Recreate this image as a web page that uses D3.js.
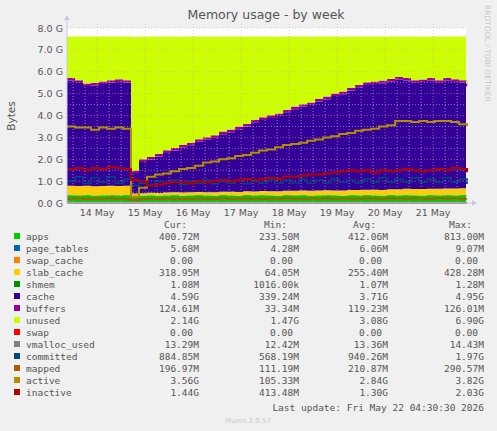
<!DOCTYPE html>
<html><head><meta charset="utf-8">
<script src="https://cdn.jsdelivr.net/npm/d3@7"></script>
<style>body{margin:0;background:#f0f0f0}svg{display:block}</style>
</head><body><svg id="c" width="497" height="431"></svg>
<script>
const startTime = new Date(2026,4,13,9,0);
const stepHours = 4;
const apps = [0.36,0.35,0.36,0.34,0.35,0.36,0.35,0.36,0.33,0.34,0.35,0.34,0.35,0.36,0.34,0.35,0.36,0.35,0.34,0.36,0.35,0.34,0.36,0.35,0.36,0.35,0.34,0.36,0.35,0.36,0.34,0.35,0.36,0.35,0.34,0.36,0.35,0.36,0.35,0.34,0.36,0.35,0.36,0.35,0.34,0.36,0.35,0.36,0.35,0.36,0.35];
const pageTables = Array(51).fill(0.006);
const swapCache = Array(51).fill(0);
const slabCache = [0.42,0.42,0.42,0.42,0.42,0.42,0.42,0.42,.10,.10,.11,.11,.12,.12,.13,.13,.14,.14,.15,.15,.16,.16,.17,.17,.18,.18,.19,.19,.20,.20,.21,.21,.22,.22,.23,.23,.24,.24,.25,.25,.26,.27,.28,.28,.29,.29,.30,.30,.31,.31,.32];
const shmem = Array(51).fill(0.001);
const cache = [4.81,4.71,4.56,4.61,4.66,4.71,4.76,4.71,0.93,1.43,1.52,1.67,1.81,1.91,2.05,2.15,2.29,2.39,2.48,2.63,2.72,2.87,2.96,3.16,3.25,3.35,3.44,3.59,3.73,3.83,3.92,4.07,4.16,4.31,4.40,4.55,4.69,4.79,4.83,4.88,4.92,5.01,4.95,4.85,4.89,4.94,4.83,4.93,4.87,4.82,4.66];
const buffers = Array(51).fill(0.12);
const unused = [1.9,2.0,2.15,2.1,2.05,2.0,1.95,2.0,6.1,5.6,5.5,5.35,5.2,5.1,4.95,4.85,4.7,4.6,4.5,4.35,4.25,4.1,4.0,3.8,3.7,3.6,3.5,3.35,3.2,3.1,3.0,2.85,2.75,2.6,2.5,2.35,2.2,2.1,2.05,2.0,1.95,1.85,1.9,2.0,1.95,1.9,2.0,1.9,1.95,2.0,2.15];
const swap = Array(51).fill(0);
const vmallocUsed = Array(51).fill(0.013);
const committed = [1.0,1.2,0.9,1.15,0.95,1.2,0.9,1.1,0.8,0.9,0.85,1.0,0.9,1.05,0.85,1.0,0.9,1.05,0.88,1.0,0.9,1.05,0.88,1.0,0.9,1.08,0.9,1.05,0.92,1.1,0.9,1.05,0.92,1.1,0.95,1.05,0.92,1.1,0.95,1.15,0.95,1.1,0.95,1.15,0.95,1.1,0.95,1.15,0.95,1.1,0.9];
const mapped = [0.2,0.22,0.18,0.21,0.2,0.22,0.19,0.2,0.15,0.18,0.2,0.19,0.21,0.2,0.18,0.2,0.21,0.19,0.2,0.22,0.2,0.19,0.21,0.2,0.19,0.21,0.2,0.22,0.2,0.19,0.21,0.2,0.22,0.2,0.21,0.19,0.2,0.22,0.21,0.2,0.22,0.21,0.2,0.22,0.21,0.2,0.23,0.21,0.22,0.2,0.2];
const active = [3.5,3.45,3.45,3.35,3.45,3.4,3.45,3.4,0.3,0.7,1.2,1.3,1.35,1.45,1.55,1.6,1.7,1.85,1.9,2.0,2.05,2.15,2.2,2.3,2.4,2.45,2.55,2.65,2.7,2.75,2.85,2.9,3.0,3.05,3.15,3.2,3.3,3.35,3.4,3.5,3.55,3.75,3.75,3.7,3.75,3.7,3.75,3.75,3.7,3.6,3.55];
const inactive = [1.55,1.6,1.5,1.6,1.55,1.65,1.6,1.55,1.05,1.0,0.8,0.85,0.9,0.95,0.95,0.9,1.0,0.95,1.0,1.05,1.0,1.05,1.1,1.05,1.1,1.15,1.1,1.2,1.2,1.25,1.3,1.3,1.35,1.4,1.45,1.5,1.45,1.5,1.4,1.5,1.45,1.5,1.55,1.5,1.45,1.5,1.55,1.5,1.6,1.55,1.45];
const dayLabels = ["14 May","15 May","16 May","17 May","18 May","19 May","20 May","21 May"];
const yTicks = [0,1,2,3,4,5,6,7,8];
const legendNames = ["apps","page_tables","swap_cache","slab_cache","shmem","cache","buffers","unused","swap","vmalloc_used","committed","mapped","active","inactive"];
const legendColors = ["#00cc00","#0066b3","#ff8000","#ffcc00","#008f00","#330099","#990099","#ccff00","#ff0000","#808080","#00487d","#b35a00","#b38f00","#b30000"];
const legendCur = ["400.72M","5.68M","0.00","318.95M","1.08M","4.59G","124.61M","2.14G","0.00","13.29M","884.85M","196.97M","3.56G","1.44G"];
const legendMin = ["233.50M","4.28M","0.00","64.05M","1016.00k","339.24M","33.34M","1.47G","0.00","12.42M","568.19M","111.19M","105.33M","413.48M"];
const legendAvg = ["412.06M","6.06M","0.00","255.40M","1.07M","3.71G","119.23M","3.08G","0.00","13.36M","940.26M","210.87M","2.84G","1.30G"];
const legendMax = ["813.00M","9.07M","0.00","428.28M","1.28M","4.95G","126.01M","6.90G","0.00","14.43M","1.97G","290.57M","3.82G","2.03G"];

const svg = d3.select("#c");
const L=67,R=466,T=28,B=203;
const times = apps.map((_,i)=>new Date(+startTime + i*stepHours*3600e3));
const endTime = new Date(+startTime + 8.31*86400e3);
const x = d3.scaleTime().domain([startTime,endTime]).range([L,R]);
const y = d3.scaleLinear().domain([0,8]).range([B,T]);

svg.append("rect").attr("x",L).attr("y",T).attr("width",R-L).attr("height",B-T).attr("fill","#fff");

// stacked areas
const stackSeries=[apps,pageTables,swapCache,slabCache,shmem,cache,buffers,unused,swap];
const stackColors=legendColors.slice(0,9);
let base = apps.map(()=>0);
const extTimes = times.concat([endTime]);
stackSeries.forEach((s,k)=>{
  const pts = s.map((v,i)=>({t:times[i],y0:base[i],y1:base[i]+v}));
  pts.push({t:endTime,y0:pts[pts.length-1].y0,y1:pts[pts.length-1].y1});
  svg.append("path").attr("fill",stackColors[k])
    .attr("d",d3.area().curve(d3.curveStepAfter).x(d=>x(d.t)).y0(d=>y(d.y0)).y1(d=>y(d.y1))(pts));
  base = base.map((b,i)=>b+s[i]);
});

// grid
const g = svg.append("g");
for(let v=0;v<=8;v+=0.5){
  g.append("line").attr("x1",L).attr("x2",R).attr("y1",y(v)).attr("y2",y(v))
   .attr("stroke", v%1===0?"#e0a0a0":"#d8d8d8").attr("stroke-width",0.6).attr("stroke-dasharray","1,2").attr("opacity",0.9);
}
const sixH = d3.timeHour.every(6).range(startTime,endTime);
sixH.forEach(t=>{
  const major = t.getHours()===0;
  g.append("line").attr("x1",x(t)).attr("x2",x(t)).attr("y1",T-4).attr("y2",B)
   .attr("stroke", major?"#e0a0a0":"#d8d8d8").attr("stroke-width",0.6).attr("stroke-dasharray","1,2");
});

// lines
const lineSeries=[swap,vmallocUsed,committed,mapped,active,inactive];
const lineColors=legendColors.slice(8);
lineSeries.forEach((s,k)=>{
  const pts=s.map((v,i)=>[times[i],v]); pts.push([endTime,s[s.length-1]]);
  svg.append("path").attr("fill","none").attr("stroke",lineColors[k]).attr("stroke-width",k===2?1.5:2)
   .attr("d",d3.line().curve(d3.curveStepAfter).x(d=>x(d[0])).y(d=>y(d[1]))(pts));
});

// axes
svg.append("line").attr("x1",L).attr("x2",R+6).attr("y1",B).attr("y2",B).attr("stroke","#c8c8e8");
svg.append("line").attr("x1",L).attr("x2",L).attr("y1",B).attr("y2",T-8).attr("stroke","#c8c8e8");
svg.append("path").attr("d",`M${R+6},${B-3}L${R+11},${B}L${R+6},${B+3}Z`).attr("fill","#c8c8e8");
svg.append("path").attr("d",`M${L-3},${T-8}L${L},${T-13}L${L+3},${T-8}Z`).attr("fill","#c8c8e8");

const font="DejaVu Sans";
yTicks.forEach(v=>{
  svg.append("text").attr("x",L-4).attr("y",y(v)+3.5).attr("text-anchor","end")
   .attr("font-family",font).attr("font-size",9.5).attr("fill","#555").text(v.toFixed(1)+" G");
});
dayLabels.forEach((lab,i)=>{
  const t=new Date(2026,4,14+i,0,0);
  svg.append("text").attr("x",x(t)).attr("y",B+13).attr("text-anchor","middle")
   .attr("font-family",font).attr("font-size",9.5).attr("fill","#555").text(lab);
});
svg.append("text").attr("transform","translate(15,116) rotate(-90)").attr("text-anchor","middle")
  .attr("font-family",font).attr("font-size",10.5).attr("fill","#555").text("Bytes");
svg.append("text").attr("x",266).attr("y",19).attr("text-anchor","middle")
  .attr("font-family",font).attr("font-size",12.5).attr("fill","#555").text("Memory usage - by week");
svg.append("text").attr("transform","translate(485,5) rotate(90)").attr("text-anchor","start")
  .attr("font-family",font).attr("font-size",7.5).attr("fill","#c8c8c8").text("RRDTOOL / TOBI OETIKER");

// legend
const mono="DejaVu Sans Mono";
const cols=[199,299,388,484];
["Cur:","Min:","Avg:","Max:"].forEach((h,i)=>svg.append("text").attr("x",cols[i]-12).attr("y",228)
  .attr("text-anchor","end").attr("font-family",mono).attr("font-size",9.5).attr("fill","#555").text(h));
legendNames.forEach((n,i)=>{
  const yy=239+i*12;
  svg.append("rect").attr("x",14).attr("y",yy-6).attr("width",6).attr("height",6).attr("fill",legendColors[i]);
  svg.append("text").attr("x",26).attr("y",yy+0.5).attr("font-family",mono).attr("font-size",9.5).attr("fill","#555").text(n);
  [legendCur,legendMin,legendAvg,legendMax].forEach((arr,c)=>{
    const v=arr[i]; const shift = v==="0.00"?6:0;
    svg.append("text").attr("x",cols[c]-shift).attr("y",yy+0.5).attr("text-anchor","end")
     .attr("font-family",mono).attr("font-size",9.5).attr("fill","#555").text(v);
  });
});
svg.append("text").attr("x",484).attr("y",411).attr("text-anchor","end").attr("font-family",mono)
  .attr("font-size",9.5).attr("fill","#555").text("Last update: Fri May 22 04:30:30 2026");
svg.append("text").attr("x",248).attr("y",423).attr("text-anchor","middle").attr("font-family",font)
  .attr("font-size",7).attr("fill","#c8c8c8").text("Munin 2.0.57");
</script></body></html>
